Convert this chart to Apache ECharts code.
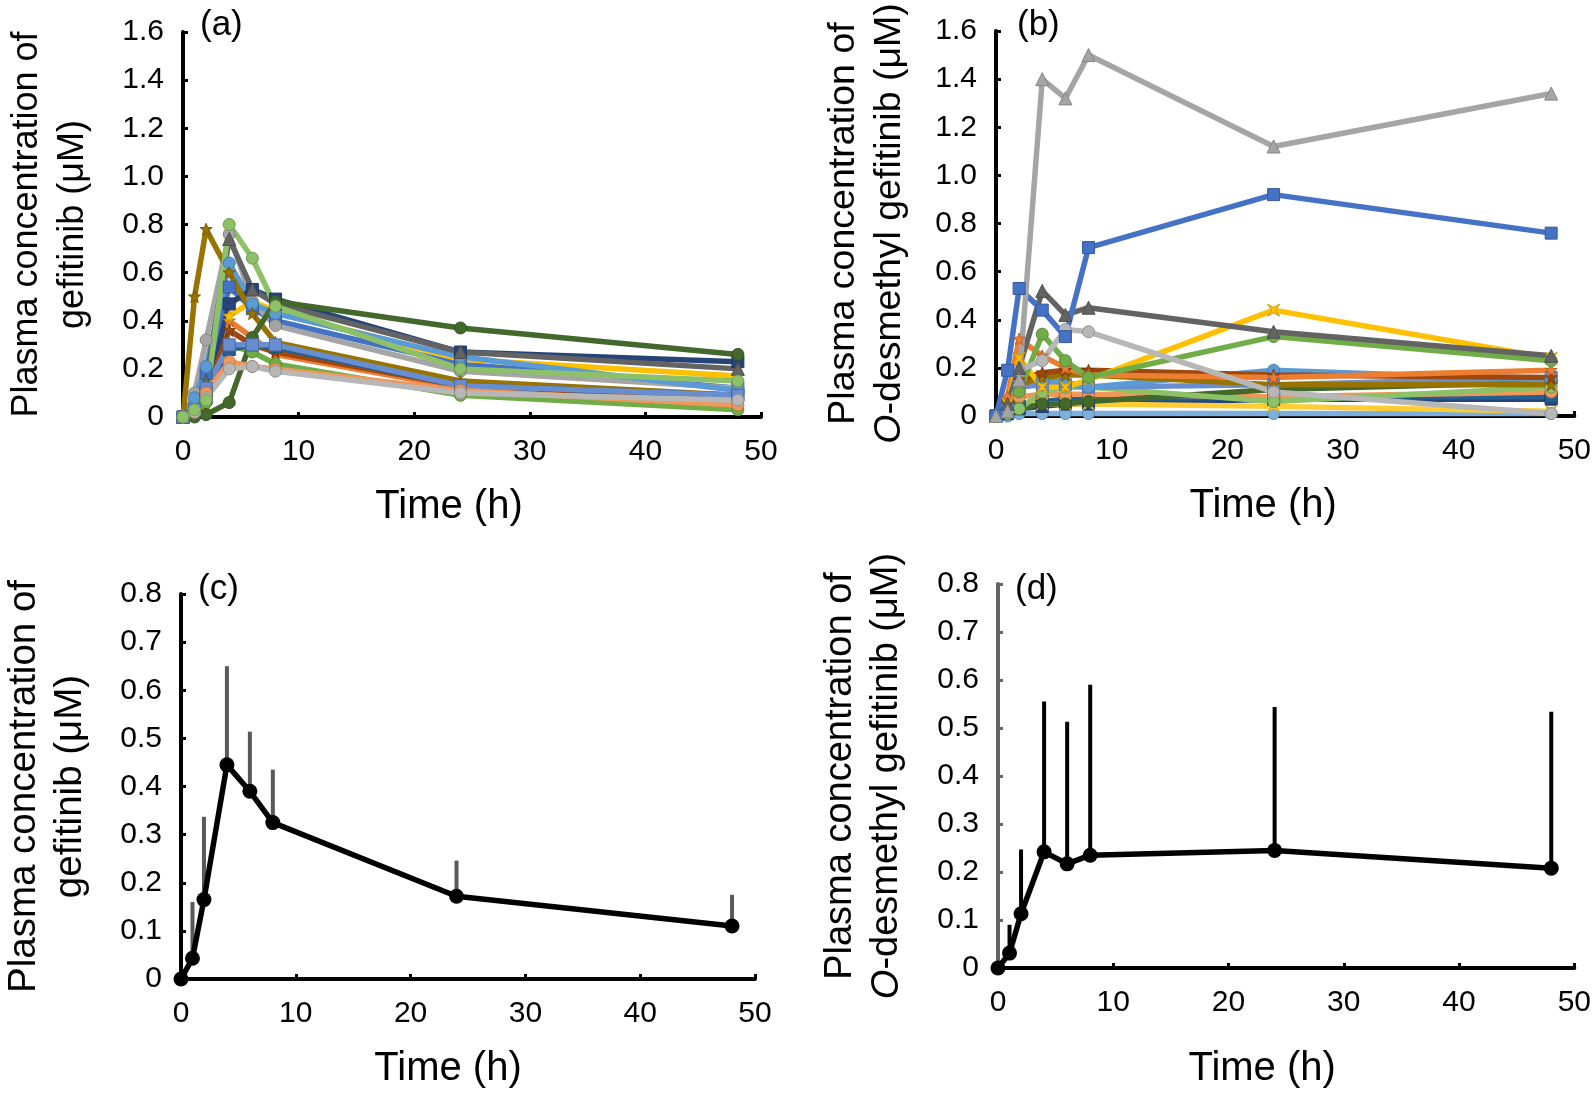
<!DOCTYPE html>
<html><head><meta charset="utf-8">
<script src="https://cdn.jsdelivr.net/npm/echarts@6/dist/echarts.min.js"></script>
<style>html,body{margin:0;padding:0;background:#fff}#c{width:1594px;height:1095px}</style>
</head><body><div id="c"></div>
<script>
// ---------- data ----------
const times = [0, 1, 2, 4, 6, 8, 24, 48];
const xTickLabels = ['0', '10', '20', '30', '40', '50'];
const yTickLabelsAB = ['0', '0.2', '0.4', '0.6', '0.8', '1.0', '1.2', '1.4', '1.6'];
const yTickLabelsCD = ['0', '0.1', '0.2', '0.3', '0.4', '0.5', '0.6', '0.7', '0.8'];

// (a) gefitinib, individual patients
const aBlue      = [0, 0.03, 0.18, 0.54, 0.45, 0.40, 0.22, 0.12];
const aOrange    = [0, 0.02, 0.12, 0.40, 0.33, 0.26, 0.12, 0.06];
const aGray      = [0, 0.10, 0.32, 0.76, 0.48, 0.38, 0.19, 0.12];
const aYellow    = [0, 0.01, 0.05, 0.42, 0.48, 0.44, 0.24, 0.17];
const aLightBlue = [0, 0.08, 0.21, 0.64, 0.47, 0.43, 0.25, 0.11];
const aGreen     = [0, 0.01, 0.06, 0.30, 0.27, 0.22, 0.09, 0.03];
const aDarkBlue  = [0, 0.02, 0.08, 0.47, 0.53, 0.49, 0.27, 0.23];
const aBrown     = [0, 0.02, 0.10, 0.36, 0.30, 0.27, 0.13, 0.08];
const aDarkGray  = [0, 0.03, 0.15, 0.74, 0.53, 0.47, 0.27, 0.20];
const aGold      = [0, 0.50, 0.78, 0.60, 0.43, 0.31, 0.15, 0.09];
const aSteel     = [0, 0.02, 0.10, 0.28, 0.30, 0.29, 0.13, 0.09];
const aDarkGreen = [0, 0.00, 0.01, 0.06, 0.33, 0.48, 0.37, 0.26];
const aMidBlue   = [0, 0.03, 0.12, 0.30, 0.30, 0.30, 0.13, 0.09];
const aSalmon    = [0, 0.02, 0.10, 0.23, 0.21, 0.20, 0.11, 0.05];
const aSilver    = [0, 0.02, 0.08, 0.20, 0.21, 0.19, 0.10, 0.07];
const aLightGreen= [0, 0.03, 0.07, 0.80, 0.66, 0.46, 0.20, 0.15];

// (b) O-desmethyl gefitinib, individual patients
const bBlue      = [0, 0.19, 0.53, 0.44, 0.33, 0.70, 0.92, 0.76];
const bOrange    = [0, 0.08, 0.32, 0.25, 0.20, 0.17, 0.16, 0.19];
const bGray      = [0, 0.02, 0.15, 1.40, 1.32, 1.50, 1.12, 1.34];
const bYellow    = [0, 0.05, 0.24, 0.12, 0.12, 0.15, 0.44, 0.24];
const bLightBlue = [0, 0.02, 0.14, 0.15, 0.14, 0.12, 0.19, 0.15];
const bGreen     = [0, 0.02, 0.10, 0.34, 0.23, 0.16, 0.33, 0.23];
const bDarkBlue  = [0, 0.01, 0.03, 0.04, 0.05, 0.05, 0.07, 0.07];
const bBrown     = [0, 0.05, 0.15, 0.18, 0.19, 0.19, 0.17, 0.16];
const bDarkGray  = [0, 0.05, 0.20, 0.52, 0.42, 0.45, 0.35, 0.25];
const bGold      = [0, 0.06, 0.13, 0.16, 0.17, 0.17, 0.13, 0.13];
const bSteel     = [0, 0.01, 0.04, 0.06, 0.07, 0.07, 0.08, 0.08];
const bDarkGreen = [0, 0.01, 0.03, 0.05, 0.05, 0.06, 0.11, 0.14];
const bMidBlue   = [0, 0.04, 0.12, 0.13, 0.13, 0.12, 0.13, 0.16];
const bSalmon    = [0, 0.03, 0.08, 0.09, 0.09, 0.09, 0.08, 0.10];
const bSilver    = [0, 0.02, 0.19, 0.23, 0.36, 0.35, 0.10, 0.01];
const bLemon     = [0, 0.03, 0.05, 0.05, 0.05, 0.05, 0.04, 0.02];
const bSky       = [0, 0.00, 0.01, 0.01, 0.01, 0.01, 0.01, 0.01];
const bLightGreen= [0, 0.01, 0.03, 0.10, 0.12, 0.12, 0.06, 0.12];

// (c) gefitinib mean and upper end of error bar
const cMean  = [0, 0.043, 0.165, 0.445, 0.39, 0.325, 0.172, 0.11];
const cUpper = [0, 0.16, 0.337, 0.65, 0.514, 0.435, 0.246, 0.175];
// (d) O-desmethyl gefitinib mean and upper end of error bar
const dMean  = [0, 0.031, 0.113, 0.242, 0.217, 0.235, 0.245, 0.208];
const dUpper = [0, 0.09, 0.247, 0.555, 0.513, 0.59, 0.544, 0.534];

// ---------- styling ----------
const FONT = 'Liberation Sans, Arial, sans-serif';
const STAR = 'path://M0,-10 L2.6,-3.4 10,-3.2 4.2,1.4 6.2,9 0,4.6 -6.2,9 -4.2,1.4 -10,-3.2 -2.6,-3.4Z';
const XMARK = 'path://M-9,-9 L-3,0 -9,9 0,4 9,9 3,0 9,-9 0,-4Z';

function darken(hex, f) {
  const n = parseInt(hex.slice(1), 16);
  const r = Math.round(((n >> 16) & 255) * f), g = Math.round(((n >> 8) & 255) * f), b = Math.round((n & 255) * f);
  return 'rgb(' + r + ',' + g + ',' + b + ')';
}

const aStyles = [
  [aBlue, '#4472C4', 'rect'], [aOrange, '#ED7D31', STAR], [aGray, '#A5A5A5', 'circle'],
  [aYellow, '#FFC000', STAR], [aLightBlue, '#5B9BD5', 'circle'], [aGreen, '#70AD47', 'circle'],
  [aDarkBlue, '#264478', 'rect'], [aBrown, '#9E480E', STAR], [aDarkGray, '#636363', 'triangle'],
  [aGold, '#997300', STAR], [aSteel, '#255E91', 'rect'], [aDarkGreen, '#43682B', 'circle'],
  [aMidBlue, '#698ED0', 'rect'], [aSalmon, '#F1975A', 'circle'], [aSilver, '#B7B7B7', 'circle'],
  [aLightGreen, '#8CC168', 'circle']
];
const bStyles = [
  [bSky, '#7CAFDD', 'circle'], [bDarkBlue, '#264478', 'rect'], [bSteel, '#255E91', 'rect'],
  [bLemon, '#FFCD33', XMARK], [bSalmon, '#F1975A', 'circle'], [bDarkGreen, '#43682B', 'circle'],
  [bLightGreen, '#8CC168', 'circle'], [bMidBlue, '#698ED0', 'rect'], [bLightBlue, '#5B9BD5', 'circle'],
  [bGold, '#997300', STAR], [bBrown, '#9E480E', STAR], [bOrange, '#ED7D31', STAR],
  [bYellow, '#FFC000', XMARK], [bGreen, '#70AD47', 'circle'], [bSilver, '#B7B7B7', 'circle'],
  [bDarkGray, '#636363', 'triangle'], [bBlue, '#4472C4', 'rect'], [bGray, '#A5A5A5', 'triangle']
];

const pairs = arr => times.map((t, i) => [t, arr[i]]);

function indivSeries(styles, idx) {
  return styles.map(([arr, color, sym]) => ({
    type: 'line', xAxisIndex: idx, yAxisIndex: idx, data: pairs(arr),
    symbol: sym, symbolSize: sym === 'triangle' ? 13 : 12, showSymbol: true,
    lineStyle: { color: color, width: 5.5 },
    itemStyle: { color: color, borderColor: darken(color, 0.8), borderWidth: 1 },
    z: 2, silent: true
  }));
}

function errSeries(mean, upper, idx, color) {
  return {
    type: 'custom', xAxisIndex: idx, yAxisIndex: idx, z: 1, silent: true,
    data: times.map((t, i) => [t, mean[i], upper[i]]).filter(d => d[2] > d[1]),
    encode: { x: 0, y: [1, 2] },
    renderItem: (params, api) => {
      const p0 = api.coord([api.value(0), api.value(1)]);
      const p1 = api.coord([api.value(0), api.value(2)]);
      return { type: 'line', shape: { x1: p0[0], y1: p0[1], x2: p1[0], y2: p1[1] },
               style: { stroke: color, lineWidth: 4 } };
    }
  };
}

function meanSeries(mean, idx) {
  return {
    type: 'line', xAxisIndex: idx, yAxisIndex: idx, data: pairs(mean),
    symbol: 'circle', symbolSize: 15, showSymbol: true, z: 3, silent: true,
    lineStyle: { color: '#000', width: 5.5 }, itemStyle: { color: '#000' }
  };
}

const grids = [
  { left: 183, top: 32, width: 578, height: 385 },
  { left: 996, top: 31, width: 580, height: 385 },
  { left: 181, top: 594, width: 574, height: 385 },
  { left: 998, top: 584, width: 579, height: 384 }
];

function titleRich(fs) {
  return {
    n: { fontSize: fs, fontFamily: FONT, color: '#000' },
    i: { fontSize: fs, fontFamily: FONT, color: '#000', fontStyle: 'italic' }
  };
}

function xAxis(idx, gap, shift) {
  return {
    type: 'value', gridIndex: idx, min: 0, max: 50, interval: 10,
    name: 'Time (h)', nameLocation: 'middle', nameGap: gap,
    nameTextStyle: { fontSize: 40, fontFamily: FONT, color: '#000', padding: [0, shift, 0, 0] },
    axisLine: { show: true, onZero: false, lineStyle: { color: '#000', width: 4 } },
    axisTick: { show: true, inside: true, length: 5, lineStyle: { color: '#000', width: 3 } },
    axisLabel: { fontSize: 30, fontFamily: FONT, color: '#000', margin: 20,
                 formatter: v => xTickLabels[Math.round(v / 10)] },
    splitLine: { show: false }
  };
}

function yAxis(idx, max, interval, labels, name, gap, fs, lineColor, lineWidth) {
  return {
    type: 'value', gridIndex: idx, min: 0, max: max, interval: interval,
    name: name, nameLocation: 'middle', nameRotate: 90, nameGap: gap,
    nameTextStyle: { fontSize: fs, fontFamily: FONT, color: '#000', lineHeight: 46, rich: titleRich(fs) },
    axisLine: { show: true, onZero: false, lineStyle: { color: lineColor, width: lineWidth } },
    axisTick: { show: true, inside: true, length: 5, lineStyle: { color: lineColor, width: 3 } },
    axisLabel: { fontSize: 30, fontFamily: FONT, color: '#000', margin: 19, padding: [12, 0, 0, 0],
                 formatter: v => labels[Math.round(v / interval)] },
    splitLine: { show: false }
  };
}

const nameGef = '{n|Plasma concentration of}\n{n|gefitinib (μM)}';
const nameOdm = '{n|Plasma concentration of}\n{i|O}{n|-desmethyl gefitinib (μM)}';

const letter = (text, left, top) => ({
  text: text, left: left, top: top, padding: 0,
  textStyle: { fontSize: 35, fontWeight: 'normal', fontFamily: FONT, color: '#000' }
});

const option = {
  animation: false,
  backgroundColor: '#fff',
  title: [letter('(a)', 200, 8), letter('(b)', 1017, 8), letter('(c)', 198, 572), letter('(d)', 1015, 572)],
  grid: grids,
  xAxis: [xAxis(0, 70, 46), xAxis(1, 70, 44), xAxis(2, 70, 40), xAxis(3, 81, 48)],
  yAxis: [
    yAxis(0, 1.6, 0.2, yTickLabelsAB, nameGef, 87, 36, '#000', 4),
    yAxis(1, 1.6, 0.2, yTickLabelsAB, nameOdm, 83, 37.5, '#000', 4),
    yAxis(2, 0.8, 0.1, yTickLabelsCD, nameGef, 88, 38.5, '#000', 4),
    yAxis(3, 0.8, 0.1, yTickLabelsCD, nameOdm, 88, 38, '#666666', 4)
  ],
  series: [].concat(
    indivSeries(aStyles, 0),
    indivSeries(bStyles, 1),
    [errSeries(cMean, cUpper, 2, '#595959'), meanSeries(cMean, 2)],
    [errSeries(dMean, dUpper, 3, '#000'), meanSeries(dMean, 3)]
  )
};

const chart = echarts.init(document.getElementById('c'), null, { renderer: 'canvas' });
chart.setOption(option);
</script>
</body></html>
